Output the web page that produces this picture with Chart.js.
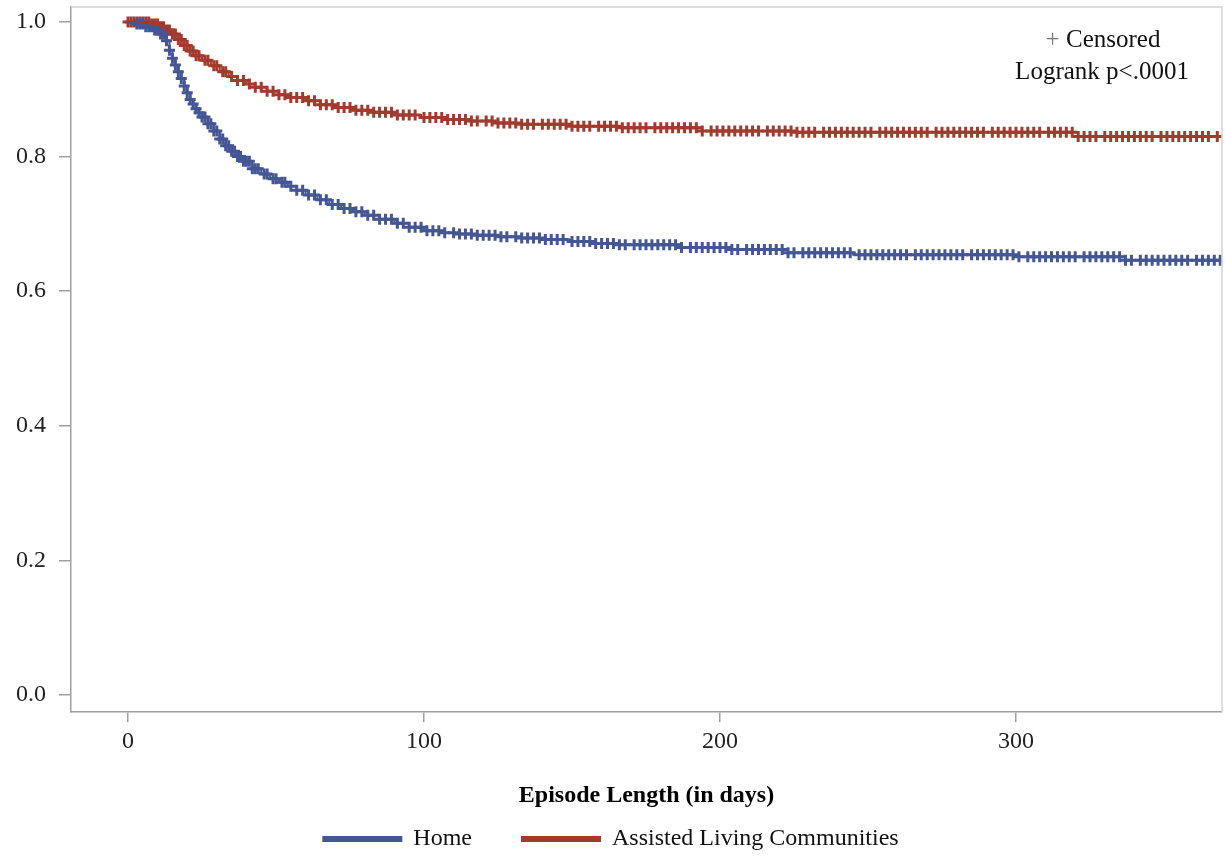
<!DOCTYPE html>
<html>
<head>
<meta charset="utf-8">
<script src="https://cdn.jsdelivr.net/npm/chart.js@4.4.1/dist/chart.umd.min.js"></script>
<style>
  html, body { margin: 0; padding: 0; background: #fff; }
  #wrap { width: 1225px; height: 856px; }
</style>
</head>
<body>
<div id="wrap"><canvas id="km"></canvas></div>
<script>
// Kaplan-Meier: dani na kojima krivulja pada i vrijednost nakon pada
const homeDays = [0, 3, 6, 9, 11, 13, 14, 15, 16, 17, 18, 19, 20, 21, 22, 23, 24, 25, 27, 29, 31, 33, 35, 37, 39, 42, 45, 48, 51, 54, 57, 60, 64, 68, 72, 76, 80, 85, 90, 95, 100, 106, 112, 118, 125, 133, 141, 150, 158, 166, 186, 203, 223, 245, 301, 337, 370];
const homeSurv = [1.0, 0.997, 0.993, 0.988, 0.982, 0.972, 0.958, 0.946, 0.936, 0.926, 0.916, 0.905, 0.895, 0.885, 0.878, 0.871, 0.865, 0.859, 0.849, 0.838, 0.826, 0.816, 0.808, 0.800, 0.793, 0.782, 0.774, 0.767, 0.762, 0.756, 0.750, 0.743, 0.736, 0.729, 0.723, 0.718, 0.713, 0.707, 0.701, 0.695, 0.690, 0.687, 0.685, 0.683, 0.681, 0.679, 0.677, 0.674, 0.671, 0.669, 0.665, 0.662, 0.657, 0.654, 0.651, 0.646, 0.646];

const alcDays = [0, 8, 11, 13, 15, 17, 19, 21, 23, 25, 28, 31, 34, 37, 40, 43, 47, 51, 55, 60, 65, 70, 76, 82, 90, 99, 108, 116, 125, 133, 150, 166, 194, 226, 321, 370];
const alcSurv = [1.0, 0.997, 0.993, 0.988, 0.982, 0.974, 0.965, 0.957, 0.950, 0.943, 0.935, 0.926, 0.919, 0.913, 0.908, 0.903, 0.897, 0.892, 0.888, 0.883, 0.877, 0.873, 0.869, 0.866, 0.862, 0.858, 0.855, 0.853, 0.850, 0.848, 0.845, 0.843, 0.838, 0.836, 0.830, 0.830];

// cenzurirani (+)
const homeCensor = [3, 4, 5, 6, 7, 8, 9, 10, 11, 12, 13, 14, 15, 16, 17, 18, 19, 20, 21, 22, 23, 24, 25, 26, 27, 28, 29, 30, 31, 32, 33, 34, 35, 36, 37, 38, 39, 40, 41, 42, 43, 44, 46, 47, 49, 50, 52, 53, 55, 57, 59, 61, 63, 65, 67, 69, 71, 73, 75, 77, 79, 81, 83, 85, 87, 89, 91, 93, 95, 97, 99, 101, 103, 105, 107, 110, 112, 114, 116, 118, 120, 122, 124, 126, 128, 131, 133, 135, 137, 139, 141, 143, 145, 147, 150, 152, 154, 156, 158, 160, 162, 164, 166, 168, 171, 173, 175, 177, 179, 181, 183, 185, 187, 190, 192, 194, 196, 198, 200, 202, 204, 206, 209, 211, 213, 215, 217, 219, 221, 223, 225, 228, 230, 232, 234, 236, 238, 240, 242, 244, 247, 249, 251, 253, 255, 257, 259, 261, 263, 266, 268, 270, 272, 274, 276, 278, 280, 282, 285, 287, 289, 291, 293, 295, 297, 299, 301, 304, 306, 308, 310, 312, 314, 316, 318, 320, 323, 325, 327, 329, 331, 333, 335, 337, 339, 342, 344, 346, 348, 350, 352, 354, 356, 358, 361, 363, 365, 367, 369];
const alcCensor = [0, 1, 2, 3, 4, 5, 6, 7, 8, 9, 10, 11, 12, 13, 14, 15, 16, 17, 18, 19, 20, 21, 22, 23, 24, 26, 27, 29, 30, 32, 33, 35, 37, 39, 41, 43, 45, 47, 49, 51, 53, 55, 57, 59, 61, 63, 65, 67, 69, 71, 73, 75, 77, 79, 81, 83, 85, 87, 89, 91, 93, 95, 97, 100, 102, 104, 106, 108, 110, 112, 114, 116, 118, 121, 123, 125, 127, 129, 131, 133, 135, 137, 140, 142, 144, 146, 148, 150, 152, 154, 156, 159, 161, 163, 165, 167, 169, 171, 173, 175, 178, 180, 182, 184, 186, 188, 190, 192, 194, 197, 199, 201, 203, 205, 207, 209, 211, 213, 216, 218, 220, 222, 224, 226, 228, 230, 232, 235, 237, 239, 241, 243, 245, 247, 249, 251, 254, 256, 258, 260, 262, 264, 266, 268, 270, 273, 275, 277, 279, 281, 283, 285, 287, 289, 292, 294, 296, 298, 300, 302, 304, 306, 308, 311, 313, 315, 317, 319, 321, 323, 325, 327, 330, 332, 334, 336, 338, 340, 342, 344, 346, 349, 351, 353, 355, 357, 359, 361, 363, 365, 368];

const xTicks = [0, 100, 200, 300];
const yTicks = [0.0, 0.2, 0.4, 0.6, 0.8, 1.0];

const groups = ['Home', 'Assisted Living Communities'];
const boje = ['#445694', '#A23A2E'];

const font = 'Liberation Serif, Times New Roman, serif';

// vrijednost krivulje na dan t (stepenica, bez interpolacije)
function survAt(days, surv, t) {
    let s = surv[0];
    for (let i = 0; i < days.length; i++) {
        if (days[i] <= t) s = surv[i];
    }
    return s;
}

const toPts = (days, surv) => days.map((d, i) => ({ x: d, y: surv[i] }));
const censorPts = (cens, days, surv) => cens.map(t => ({ x: t, y: survAt(days, surv, t) }));

const okvir = {
    id: 'okvir',
    afterDraw(chart) {
        const { ctx, chartArea: a } = chart;
        ctx.save();
        ctx.strokeStyle = '#d4d4d4';
        ctx.lineWidth = 1.5;
        ctx.beginPath();
        ctx.moveTo(a.left, a.top);
        ctx.lineTo(a.right, a.top);
        ctx.lineTo(a.right, a.bottom);
        ctx.stroke();

        ctx.font = '25px ' + font;
        ctx.textBaseline = 'middle';
        ctx.textAlign = 'left';
        const w = ctx.measureText('+ Censored').width;
        const x0 = 1103 - w / 2;
        ctx.fillStyle = '#777';
        ctx.fillText('+', x0, 40);
        ctx.fillStyle = '#111';
        ctx.fillText('Censored', x0 + ctx.measureText('+ ').width, 40);
        ctx.textAlign = 'center';
        ctx.fillText('Logrank p<.0001', 1102, 72);
        ctx.restore();
    }
};

const ctx = document.getElementById('km').getContext('2d');
const chart = new Chart(ctx, {
    type: 'line',
    data: {
        datasets: [
            {
                label: groups[0],
                data: toPts(homeDays, homeSurv),
                borderColor: boje[0],
                backgroundColor: boje[0],
                borderWidth: 2,
                stepped: true,
                pointRadius: 0
            },
            {
                label: groups[1],
                data: toPts(alcDays, alcSurv),
                borderColor: boje[1],
                backgroundColor: boje[1],
                borderWidth: 2,
                stepped: true,
                pointRadius: 0
            },
            {
                label: 'Home censored',
                data: censorPts(homeCensor, homeDays, homeSurv),
                showLine: false,
                pointStyle: 'cross',
                pointRadius: 5.5,
                pointBorderWidth: 3,
                borderColor: boje[0],
                backgroundColor: boje[0]
            },
            {
                label: 'ALC censored',
                data: censorPts(alcCensor, alcDays, alcSurv),
                showLine: false,
                pointStyle: 'cross',
                pointRadius: 5.5,
                pointBorderWidth: 3,
                borderColor: boje[1],
                backgroundColor: boje[1]
            }
        ]
    },
    options: {
        responsive: true,
        maintainAspectRatio: false,
        animation: false,
        devicePixelRatio: 1,
        layout: { autoPadding: false, padding: { left: 0, top: 7, right: 3, bottom: -5 } },
        plugins: {
            tooltip: { enabled: false },
            legend: {
                position: 'bottom',
                labels: {
                    filter: item => item.datasetIndex < 2,
                    boxWidth: 78,
                    boxHeight: 4,
                    padding: 50,
                    color: '#111',
                    font: { family: font, size: 24 }
                }
            }
        },
        scales: {
            x: {
                type: 'linear',
                min: -19.26,
                max: 369.6,
                afterBuildTicks: s => { s.ticks = xTicks.map(v => ({ value: v })); },
                afterFit: s => {
                    s.height = s.chart.height + 5 - 712 - s.chart.legend.height;
                    s.paddingLeft = 0;
                    s.paddingRight = 0;
                },
                grid: { display: true, drawOnChartArea: false, tickLength: 10, color: '#a0a0a0', lineWidth: 1.5 },
                border: { color: '#a0a0a0', width: 1.5 },
                ticks: {
                    padding: 5,
                    color: '#222',
                    maxRotation: 0,
                    font: { family: font, size: 24 },
                    callback: v => String(v)
                },
                title: {
                    display: true,
                    text: 'Episode Length (in days)',
                    color: '#000',
                    // legenda je visoka 84 px, pa naslov ide ispod okvira osi
                    padding: { top: 0, bottom: -33 },
                    font: { family: font, size: 24, weight: 'bold' }
                }
            },
            y: {
                min: -0.0253,
                max: 1.0223,
                afterBuildTicks: s => { s.ticks = yTicks.map(v => ({ value: v })); },
                afterFit: s => {
                    s.width = 71;
                    s.paddingTop = 0;
                    s.paddingBottom = 0;
                },
                grid: { display: true, drawOnChartArea: false, tickLength: 12, color: '#a0a0a0', lineWidth: 1.5 },
                border: { color: '#a0a0a0', width: 1.5 },
                ticks: {
                    padding: 13,
                    color: '#222',
                    font: { family: font, size: 24 },
                    callback: v => v.toFixed(1)
                }
            }
        }
    },
    plugins: [okvir]
});
</script>
</body>
</html>
